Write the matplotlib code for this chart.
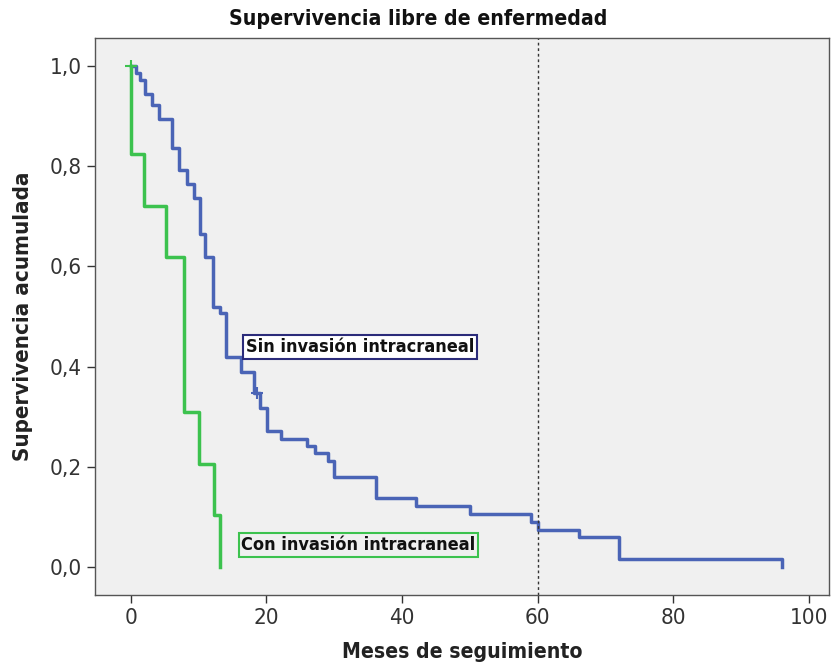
import matplotlib
matplotlib.use("Agg")
from matplotlib import pyplot as plt

# Kaplan-Meier steps: event time (months) and survival after the step
sin_t = [0, 0.7, 1.4, 2.1, 3.1, 4.1, 6.1, 7.1, 8.3, 9.3, 10.2, 11.0, 12.1, 13.2,
         14.1, 16.2, 18.1, 19.0, 20.1, 22.1, 26.0, 27.1, 29.1, 29.9, 36.2, 42.1,
         50.1, 59.1, 60.0, 66.1, 72.0, 96.1]
sin_s = [1.0, 0.986, 0.972, 0.944, 0.922, 0.894, 0.836, 0.792, 0.764, 0.736,
         0.665, 0.619, 0.519, 0.507, 0.419, 0.389, 0.347, 0.317, 0.272, 0.256,
         0.242, 0.227, 0.212, 0.180, 0.137, 0.121, 0.105, 0.090, 0.074, 0.059,
         0.015, 0.0]
sin_cens_t = [18.6]
sin_cens_s = [0.347]

con_t = [0, 0.05, 2.0, 5.2, 7.9, 10.1, 12.2, 13.1]
con_s = [1.0, 0.824, 0.72, 0.618, 0.309, 0.206, 0.103, 0.0]
con_cens_t = [0]
con_cens_s = [1.0]

xticks = [0, 20, 40, 60, 80, 100]
yticks = [0.0, 0.2, 0.4, 0.6, 0.8, 1.0]
ytick_labels = ["0,0", "0,2", "0,4", "0,6", "0,8", "1,0"]

blue = "#4a64b6"
green = "#3cc24e"

plt.rcParams["font.family"] = ["DejaVu Sans"]
plt.rcParams["font.stretch"] = "condensed"

fig = plt.figure(figsize=(8.37, 6.69), dpi=100)
ax = fig.add_axes([0.1135, 0.1106, 0.877, 0.8326])
ax.set_facecolor("#f0f0f0")

ax.step(sin_t, sin_s, where="post", color=blue, lw=2.5)
ax.step(con_t, con_s, where="post", color=green, lw=2.5)
ax.plot(sin_cens_t, sin_cens_s, "+", color=blue, ms=8, mew=1.5)
ax.plot(con_cens_t, con_cens_s, "+", color=green, ms=8, mew=1.5)

# 60-month reference line
ax.axvline(60, color="#333333", lw=1, ls=(0, (2, 2)))

ax.text(17.0, 0.439, "Sin invasión intracraneal", fontsize=13, fontweight="bold",
        va="center", ha="left", color="#111111",
        bbox=dict(boxstyle="square,pad=0.15", fc="white", ec="#2b2b7a", lw=1.5))
ax.text(16.3, 0.044, "Con invasión intracraneal", fontsize=13, fontweight="bold",
        va="center", ha="left", color="#111111",
        bbox=dict(boxstyle="square,pad=0.15", fc="#f0f0f0", ec=green, lw=1.5))

ax.set_xlim(-5.3, 103)
ax.set_ylim(-0.056, 1.056)
ax.set_xticks(xticks)
ax.set_yticks(yticks)
ax.set_yticklabels(ytick_labels)
ax.tick_params(labelsize=16, length=6, width=1, color="#333333", labelcolor="#333333")
for sp in ax.spines.values():
    sp.set_color("#555555")
    sp.set_linewidth(1)

fig.text(0.5, 0.972, "Supervivencia libre de enfermedad", fontsize=15.2,
         fontweight="bold", ha="center", va="center", color="#111111")
ax.set_xlabel("Meses de seguimiento", fontsize=15.2, fontweight="bold", labelpad=10,
              color="#222222")
ax.set_ylabel("Supervivencia acumulada", fontsize=16, fontweight="bold", labelpad=12,
              color="#222222")

fig.savefig("out.png", dpi=100, facecolor="white")
